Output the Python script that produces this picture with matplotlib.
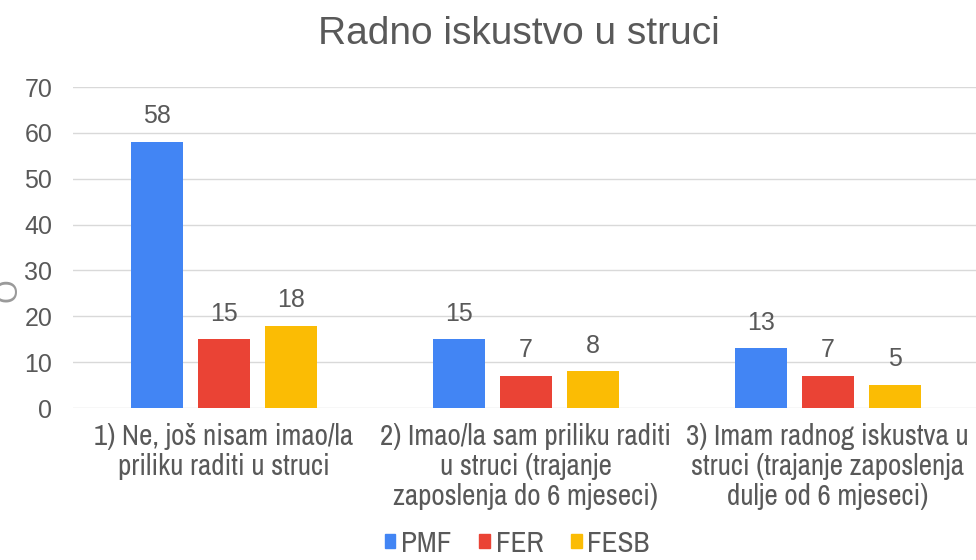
import numpy as np
import matplotlib
matplotlib.use("Agg")
import matplotlib.pyplot as plt
from matplotlib.patches import Patch

categories = [
    "1) Ne, još nisam imao/la\npriliku raditi u struci",
    "2) Imao/la sam priliku raditi\nu struci (trajanje\nzaposlenja do 6 mjeseci)",
    "3) Imam radnog iskustva u\nstruci (trajanje zaposlenja\ndulje od 6 mjeseci)",
]
series_names = ["PMF", "FER", "FESB"]
pmf = [58, 15, 13]
fer = [15, 7, 7]
fesb = [18, 8, 5]
colors = ["#4285F4", "#EA4335", "#FBBC04"]
yticks = [0, 10, 20, 30, 40, 50, 60, 70]

text_col = "#595959"
narrow = ["Archivo Narrow", "DejaVu Sans"]
plt.rcParams["font.family"] = ["Liberation Sans", "DejaVu Sans"]

fig = plt.figure(figsize=(9.76, 5.6), dpi=100)
ax = fig.add_axes([0.0748, 0.2714, 0.928, 0.573])

x = np.arange(len(categories))
width = 0.172
step = 0.222
for i, (name, vals) in enumerate(zip(series_names, [pmf, fer, fesb])):
    pos = x + (i - 1) * step
    bars = ax.bar(pos, vals, width, color=colors[i], zorder=3)
    for b, v in zip(bars, vals):
        ax.text(b.get_x() + b.get_width() / 2, v + 3.0, str(v),
                ha="center", va="bottom", fontsize=18, color=text_col)

ax.set_xlim(-0.5, 2.5)
ax.set_ylim(0, 70)
ax.set_yticks(yticks)
ax.set_xticks(x)
ax.set_xticklabels(categories, fontsize=21, color=text_col, family=narrow,
                   linespacing=1.12)
ax.tick_params(axis="y", length=0, pad=15, labelsize=18, labelcolor=text_col)
ax.tick_params(axis="x", length=0, pad=11)
ax.grid(axis="y", color="#d9d9d9", linewidth=1, zorder=0)
for s in ax.spines.values():
    s.set_visible(False)

fig.text(0.532, 0.94, "Radno iskustvo u struci", ha="center", va="center",
         fontsize=28, color=text_col)

# clipped remnant of the axis title at the left edge
fig.text(0.009, 0.482, "O", ha="center", va="center", fontsize=22,
         color="#9a9a9a", rotation=90)

handles = [Patch(color=c) for c in colors]
fig.legend(handles, series_names, loc="center", bbox_to_anchor=(0.53, 0.03),
           ncol=3, frameon=False, handlelength=0.36, handleheight=0.36,
           handletextpad=0.2, columnspacing=0.95,
           prop={"family": narrow, "size": 21}, labelcolor=text_col)

fig.savefig("out.png", dpi=100)
